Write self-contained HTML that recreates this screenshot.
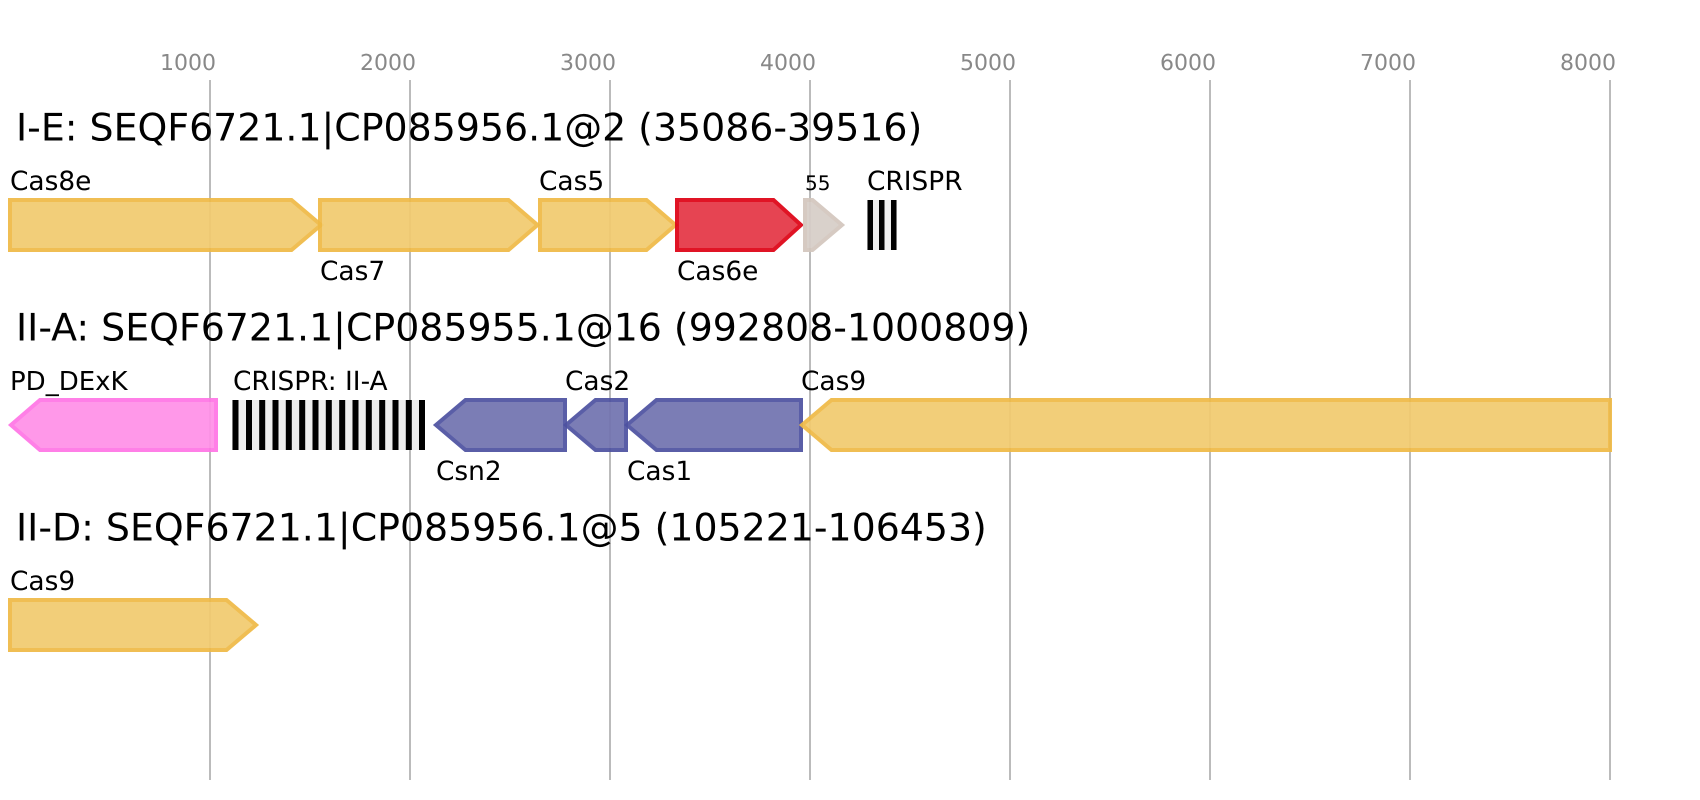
<!DOCTYPE html>
<html>
<head>
<meta charset="utf-8">
<style>
html,body{margin:0;padding:0;background:#fff;width:1700px;height:800px;overflow:hidden}
svg{display:block}
text{font-family:"DejaVu Sans",sans-serif;fill:#000;text-rendering:geometricPrecision}
.t{font-size:22px;fill:#888}
.h{font-size:37.87px}
.l{font-size:26.4px}
.g{stroke-width:4;stroke-linejoin:miter;opacity:.93}
.y{fill:#f2cb6f;stroke:#efba46}
.r{fill:#e53645;stroke:#de0315}
.p{fill:#7274b0;stroke:#4e52a1}
.k{fill:#ff91e8;stroke:#ff76e6}
.b{fill:#d7cec8;stroke:#d3c7be}
</style>
</head>
<body>
<svg width="1700" height="800" viewBox="0 0 1700 800" xmlns="http://www.w3.org/2000/svg">
<rect width="1700" height="800" fill="#fff"/>
<g stroke="#bbb" stroke-width="2">
<line x1="210" y1="80" x2="210" y2="780"/>
<line x1="410" y1="80" x2="410" y2="780"/>
<line x1="610" y1="80" x2="610" y2="780"/>
<line x1="810" y1="80" x2="810" y2="780"/>
<line x1="1010" y1="80" x2="1010" y2="780"/>
<line x1="1210" y1="80" x2="1210" y2="780"/>
<line x1="1410" y1="80" x2="1410" y2="780"/>
<line x1="1610" y1="80" x2="1610" y2="780"/>
</g>
<text class="t" x="160" y="70">1000</text>
<text class="t" x="360" y="70">2000</text>
<text class="t" x="560" y="70">3000</text>
<text class="t" x="760" y="70">4000</text>
<text class="t" x="960" y="70">5000</text>
<text class="t" x="1160" y="70">6000</text>
<text class="t" x="1360" y="70">7000</text>
<text class="t" x="1560" y="70">8000</text>

<text class="h" x="16" y="140.5">I-E: SEQF6721.1|CP085956.1@2 (35086-39516)</text>
<text class="l" x="10" y="190">Cas8e</text>
<polygon class="g y" points="10,200 291.5,200 321,225 291.5,250 10,250"/>
<polygon class="g y" points="320,200 508.5,200 537.5,225 508.5,250 320,250"/>
<text class="l" x="320" y="280">Cas7</text>
<text class="l" x="539" y="190">Cas5</text>
<polygon class="g y" points="540,200 646.5,200 675.5,225 646.5,250 540,250"/>
<polygon class="g r" points="677,200 773.5,200 801,225 773.5,250 677,250"/>
<text class="l" x="677" y="280">Cas6e</text>
<polygon class="g b" points="805,200 812.5,200 842,225 812.5,250 805,250"/>
<text x="805" y="190" style="font-size:20px">55</text>
<text class="l" x="867" y="190">CRISPR</text>
<rect x="867" y="200" width="30" height="50" fill="#eee"/>
<g fill="#000">
<rect x="867.5" y="200" width="5.5" height="50"/>
<rect x="879" y="200" width="5.5" height="50"/>
<rect x="891" y="200" width="5.5" height="50"/>
</g>

<text class="h" x="16" y="340.5">II-A: SEQF6721.1|CP085955.1@16 (992808-1000809)</text>
<text class="l" x="10" y="390" style="font-size:26px">PD_DExK</text>
<polygon class="g k" points="216,400 40,400 11,425 40,450 216,450"/>
<text class="l" x="233" y="390">CRISPR: II-A</text>
<rect x="232" y="400" width="193" height="50" fill="#eee"/>
<g fill="#000">
<rect x="232.5" y="400" width="6" height="50"/>
<rect x="246" y="400" width="6" height="50"/>
<rect x="259.2" y="400" width="6" height="50"/>
<rect x="272.5" y="400" width="6" height="50"/>
<rect x="285.8" y="400" width="6" height="50"/>
<rect x="299.2" y="400" width="6" height="50"/>
<rect x="312.5" y="400" width="6" height="50"/>
<rect x="325.8" y="400" width="6" height="50"/>
<rect x="339.2" y="400" width="6" height="50"/>
<rect x="352.5" y="400" width="6" height="50"/>
<rect x="365.8" y="400" width="6" height="50"/>
<rect x="379.2" y="400" width="6" height="50"/>
<rect x="392.5" y="400" width="6" height="50"/>
<rect x="405.8" y="400" width="6" height="50"/>
<rect x="419" y="400" width="6" height="50"/>
</g>
<polygon class="g p" points="565,400 465.5,400 436,425 465.5,450 565,450"/>
<text class="l" x="436" y="480">Csn2</text>
<polygon class="g p" points="626,400 595.5,400 566,425 595.5,450 626,450"/>
<text class="l" x="565" y="390">Cas2</text>
<polygon class="g p" points="801,400 656.5,400 627,425 656.5,450 801,450"/>
<text class="l" x="627" y="480">Cas1</text>
<polygon class="g y" points="1610,400 831.5,400 802,425 831.5,450 1610,450"/>
<text class="l" x="801" y="390">Cas9</text>

<text class="h" x="16" y="540.5">II-D: SEQF6721.1|CP085956.1@5 (105221-106453)</text>
<text class="l" x="10" y="590">Cas9</text>
<polygon class="g y" points="10,600 226.5,600 256,625 226.5,650 10,650"/>
</svg>
</body>
</html>
